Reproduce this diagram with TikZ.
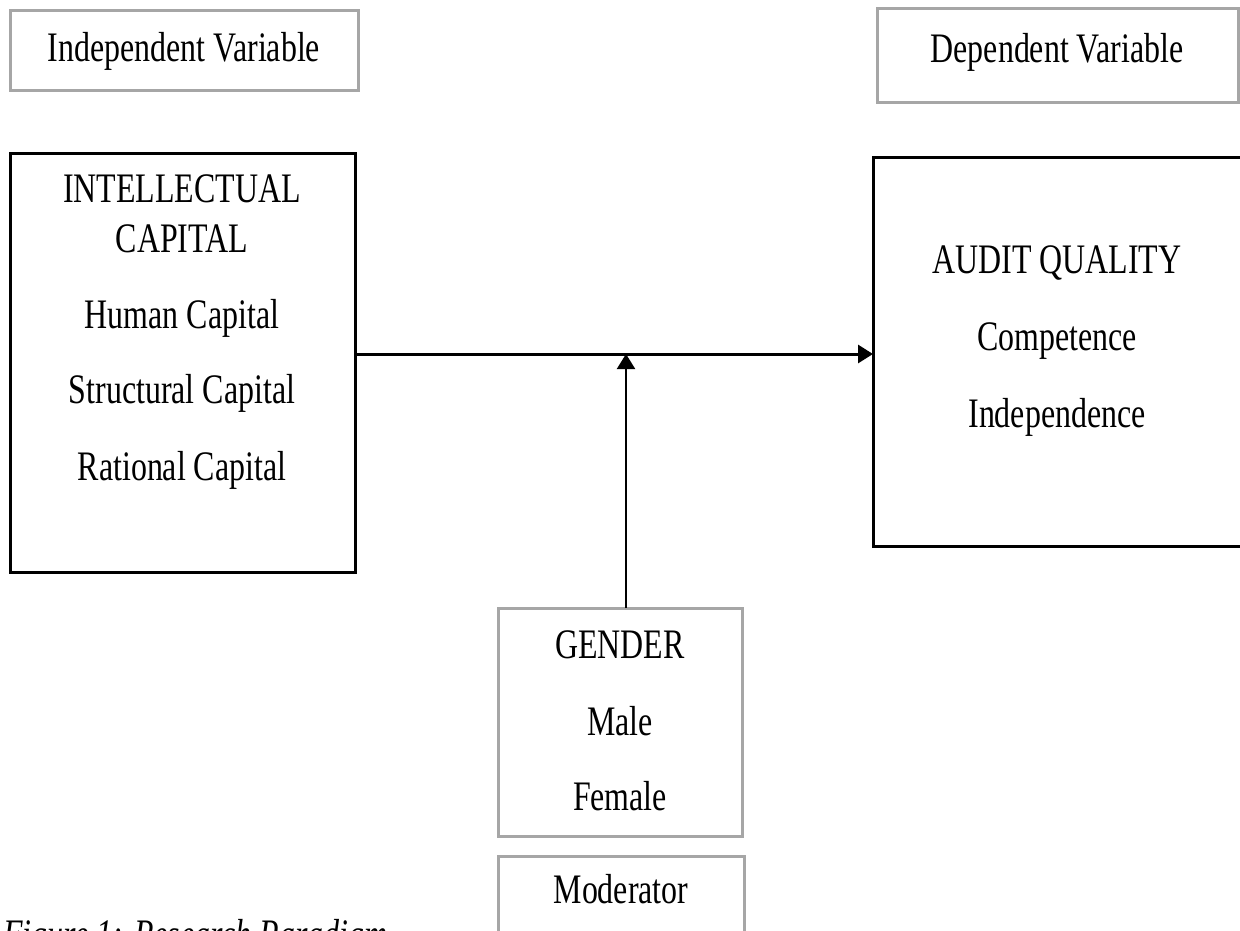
\documentclass[tikz,border=0pt]{standalone}
\usepackage{fontspec}
\setmainfont[FakeStretch=0.76]{Liberation Serif}
\usetikzlibrary{arrows.meta}
\definecolor{boxgray}{HTML}{A6A6A6}
\tikzset{
  txt/.style={font=\fontsize{42}{50}\selectfont, inner sep=0pt, anchor=base},
  graybox/.style={draw=boxgray, line width=3pt, inner sep=0pt, outer sep=0pt, anchor=north west},
  blackbox/.style={draw=black, line width=3pt, inner sep=0pt, outer sep=0pt, anchor=north west},
  arr/.style={draw=black, line width=3pt, -{Triangle[length=15pt,width=18pt]}}
}
\begin{document}
\begin{tikzpicture}[x=1pt,y=-1pt]
\useasboundingbox (0,0) rectangle (1240,930);
\clip (0,0) rectangle (1240,930);
\fill[white] (0,0) rectangle (1240,930);
% label boxes
\node[graybox, minimum width=348pt, minimum height=80pt] (ivb) at (10,10) {};
\node[txt] (ivt) at (184,61) {Independent Variable};
\node[graybox, minimum width=361pt, minimum height=94pt] (dvb) at (877,8) {};
\node[txt] (dvt) at (1057,62) {Dependent Variable};
% main boxes
\node[blackbox, minimum width=345pt, minimum height=419pt] (ic) at (10,153) {};
\node[txt] (ic1) at (182,202) {INTELLECTUAL};
\node[txt] (ic2) at (182,252) {CAPITAL};
\node[txt] (ic3) at (182,328) {Human Capital};
\node[txt] (ic4) at (182,403) {Structural Capital};
\node[txt] (ic5) at (182,480) {Rational Capital};
\node[blackbox, minimum width=380pt, minimum height=389pt] (aq) at (873,157) {};
\node[txt] (aq1) at (1057,273) {AUDIT QUALITY};
\node[txt] (aq2) at (1057,350) {Competence};
\node[txt] (aq3) at (1057,427) {Independence};
% moderator
\node[graybox, minimum width=244pt, minimum height=228pt] (gd) at (498,608) {};
\node[txt] (gd1) at (620,658) {GENDER};
\node[txt] (gd2) at (620,735) {Male};
\node[txt] (gd3) at (620,810) {Female};
\node[graybox, minimum width=246pt, minimum height=120pt] (md) at (498,856) {};
\node[txt] (mdt) at (621,903) {Moderator};
% caption (cut off at the bottom, as in the source)
\node[txt, anchor=base west, font=\fontsize{42}{50}\selectfont\itshape] (cap) at (3,948) {Figure 1: Research Paradigm};
% connectors
\coordinate (m) at (626,354);
\draw[arr] (ic.east |- m) -- (aq.west |- m);
\draw[arr, line width=2.2pt] (gd.north -| m) -- (m);
\end{tikzpicture}
\end{document}
